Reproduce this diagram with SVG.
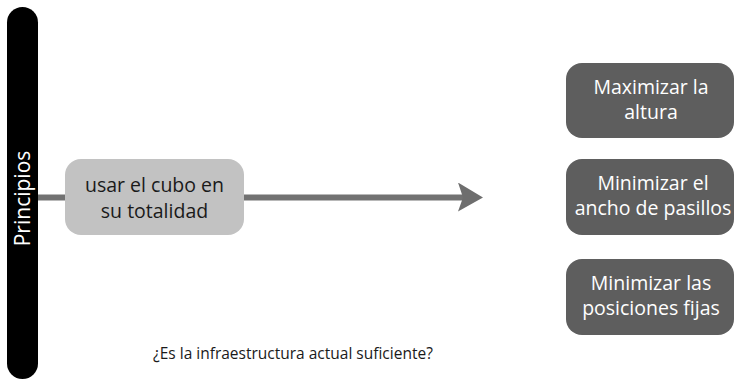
<svg xmlns="http://www.w3.org/2000/svg" width="735" height="382" viewBox="0 0 735 382">
<defs>
<style>
.t{font-family:"Open Sans","Noto Sans","Liberation Sans",sans-serif;}
.node-light{fill:#c2c2c2;}
.node-dark{fill:#5e5e5e;}
.lt{font-size:19.5px;fill:#1a1a1a;text-anchor:middle;}
.dt{font-size:19.5px;fill:#ffffff;text-anchor:middle;}
.conn{stroke:#727272;stroke-width:6;fill:none;}
</style>
<marker id="arr" markerUnits="userSpaceOnUse" markerWidth="30" markerHeight="34" refX="6" refY="15" orient="auto" viewBox="0 0 30 34">
<path d="M0,0 L25,15 L0,29 L5,15 Z" fill="#6e6e6e"/>
</marker>
</defs>
<rect width="735" height="382" fill="#ffffff"/>
<g id="connectors">
<line class="conn" x1="38" y1="197.5" x2="66" y2="197.5"/>
<line class="conn" x1="243" y1="197.5" x2="464" y2="197.5" stroke="#6e6e6e" marker-end="url(#arr)"/>
</g>
<g id="principios">
<rect x="7" y="7" width="31" height="372" rx="15.5" ry="15.5" fill="#000000"/>
<text class="t" transform="translate(30,198.5) rotate(-90)" font-size="21" fill="#ffffff" text-anchor="middle">Principios</text>
</g>
<g id="node-cubo">
<rect class="node-light" x="65" y="159" width="179" height="76" rx="16" ry="16"/>
<text class="t lt" x="154.5" y="192">usar el cubo en</text>
<text class="t lt" x="154.5" y="218">su totalidad</text>
</g>
<g id="node-altura">
<rect class="node-dark" x="566" y="63" width="168" height="75" rx="16" ry="16"/>
<text class="t dt" x="651" y="94">Maximizar la</text>
<text class="t dt" x="651" y="119">altura</text>
</g>
<g id="node-pasillos">
<rect class="node-dark" x="566" y="159" width="168" height="76" rx="16" ry="16"/>
<text class="t dt" x="653" y="190">Minimizar el</text>
<text class="t dt" x="653" y="215">ancho de pasillos</text>
</g>
<g id="node-fijas">
<rect class="node-dark" x="566" y="259" width="168" height="76" rx="16" ry="16"/>
<text class="t dt" x="651" y="290">Minimizar las</text>
<text class="t dt" x="651" y="315">posiciones fijas</text>
</g>
<g id="pregunta">
<text class="t" x="153" y="359" font-size="15.5" fill="#1a1a1a">¿Es la infraestructura actual suficiente?</text>
</g>
</svg>
